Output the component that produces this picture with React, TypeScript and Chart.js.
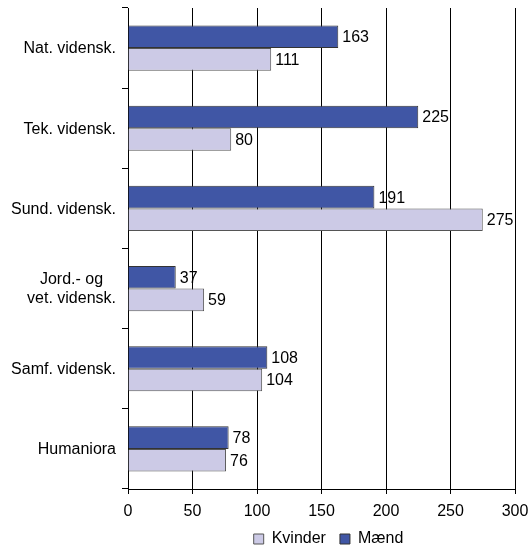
import React, { useEffect, useRef } from "react";
import { Chart, registerables } from "chart.js";

Chart.register(...registerables);

const categories: string[][] = [
  ["Nat. vidensk."],
  ["Tek. vidensk."],
  ["Sund. vidensk."],
  ["Jord.- og", "vet. vidensk."],
  ["Samf. vidensk."],
  ["Humaniora"],
];
const maendValues = [163, 225, 191, 37, 108, 78];
const kvinderValues = [111, 80, 275, 59, 104, 76];
const xMin = 0;
const xMax = 300;
const xStep = 50;

const FONT = '"Liberation Sans", Arial, sans-serif';
const FS = 16;

const valueLabels = {
  id: "valueLabels",
  afterDatasetsDraw(chart: any) {
    const ctx = chart.ctx;
    ctx.save();
    ctx.font = `${FS}px ${FONT}`;
    ctx.fillStyle = "#000";
    ctx.textAlign = "left";
    ctx.textBaseline = "middle";
    chart.data.datasets.forEach((ds: any, i: number) => {
      const meta = chart.getDatasetMeta(i);
      meta.data.forEach((bar: any, j: number) => {
        ctx.fillText(String(ds.data[j]), bar.x + 4, bar.y + 1);
      });
    });
    ctx.restore();
  },
};

const yLabels = {
  id: "yLabels",
  afterDraw(chart: any) {
    const ctx = chart.ctx;
    const scale = chart.scales.y;
    ctx.save();
    ctx.font = `${FS}px ${FONT}`;
    ctx.fillStyle = "#000";
    ctx.textAlign = "center";
    ctx.textBaseline = "middle";
    const right = chart.chartArea.left - 12;
    const lh = 19;
    categories.forEach((lines, i) => {
      const y = scale.getPixelForValue(i);
      const maxW = Math.max(...lines.map((l) => ctx.measureText(l).width));
      const cx = right - maxW / 2;
      lines.forEach((l, k) => {
        ctx.fillText(l, cx, y + 1 + (k - (lines.length - 1) / 2) * lh);
      });
    });
    ctx.restore();
  },
};

const legendShift = {
  id: "legendShift",
  afterLayout(chart: any) {
    if (chart.legend) {
      chart.legend.left += 7;
      chart.legend.right += 7;
    }
  },
};

export default function App() {
  const ref = useRef<HTMLCanvasElement>(null);
  useEffect(() => {
    if (!ref.current) return;
    const chart = new Chart(ref.current, {
      type: "bar",
      data: {
        labels: categories,
        datasets: [
          {
            label: "Mænd",
            data: maendValues,
            backgroundColor: "#4056A5",
            borderColor: "#333333",
            borderWidth: 1,
            categoryPercentage: 0.5625,
            barPercentage: 1,
          },
          {
            label: "Kvinder",
            data: kvinderValues,
            backgroundColor: "#CCCAE6",
            borderColor: "#555555",
            borderWidth: 1,
            categoryPercentage: 0.5625,
            barPercentage: 1,
          },
        ],
      },
      options: {
        indexAxis: "y",
        animation: false,
        responsive: true,
        maintainAspectRatio: false,
        layout: { padding: { top: 8, right: 16, left: 0, bottom: 0 } },
        plugins: {
          tooltip: { enabled: false },
          legend: {
            position: "bottom",
            reverse: true,
            fullSize: false,
            labels: {
              boxWidth: 10,
              boxHeight: 10,
              padding: 14,
              color: "#000",
              font: { size: FS, family: FONT },
            },
          },
        },
        scales: {
          x: {
            min: xMin,
            max: xMax,
            ticks: {
              stepSize: xStep,
              color: "#000",
              padding: 8,
              font: { size: FS, family: FONT },
            },
            grid: { color: "#000", lineWidth: 1, tickLength: 5 },
            border: { color: "#000", width: 1 },
            afterFit(scale: any) {
              scale.height = 28;
              scale.paddingLeft = 0;
              scale.paddingRight = 0;
            },
          },
          y: {
            ticks: {
              color: "rgba(0,0,0,0)",
              font: { size: FS, family: FONT },
            },
            grid: {
              drawOnChartArea: false,
              drawTicks: true,
              tickLength: 6,
              color: "#000",
              offset: true,
            },
            border: { color: "#000", width: 1 },
            afterFit(scale: any) {
              scale.width = 128;
              scale.paddingTop = 0;
              scale.paddingBottom = 0;
            },
          },
        },
      },
      plugins: [valueLabels, yLabels, legendShift],
    });
    return () => chart.destroy();
  }, []);

  return (
    <div
      style={{
        position: "fixed",
        top: 0,
        left: 0,
        width: 531,
        height: 545,
        overflow: "hidden",
        background: "#fff",
      }}
    >
      <div style={{ position: "relative", width: 531, height: 557 }}>
        <canvas ref={ref} />
      </div>
    </div>
  );
}
